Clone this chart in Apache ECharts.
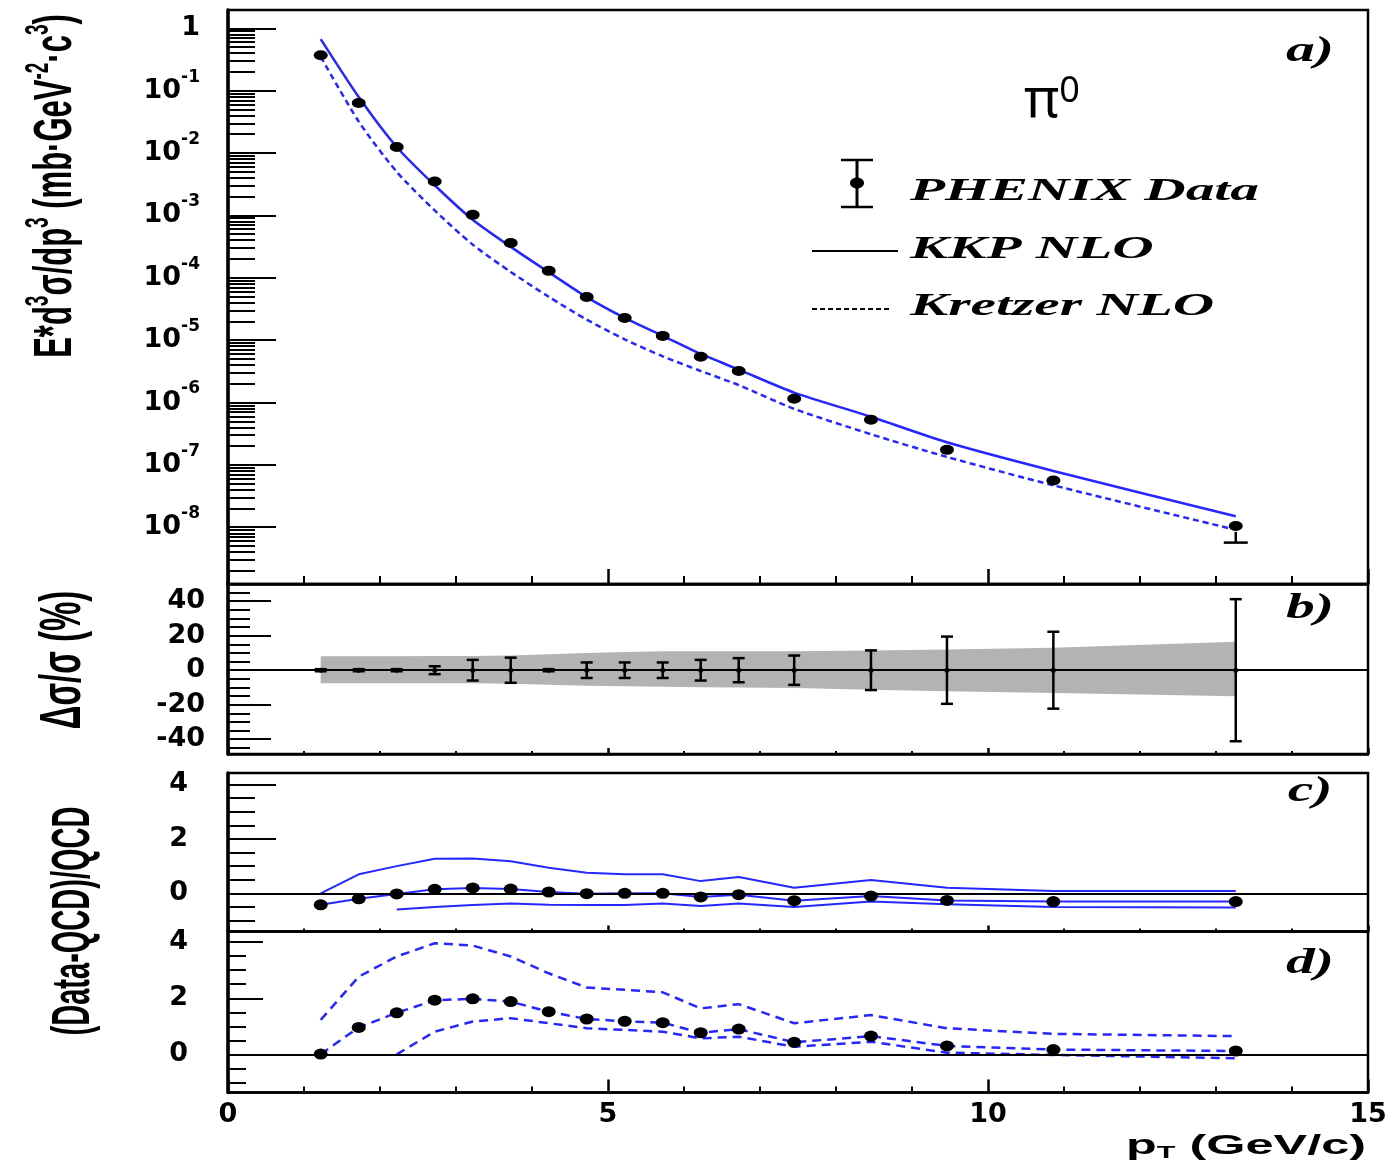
<!DOCTYPE html>
<html><head><meta charset="utf-8">
<script src="https://cdn.jsdelivr.net/npm/echarts@6/dist/echarts.min.js"></script>
<style>html,body{margin:0;padding:0;background:#fff}#c{width:1399px;height:1165px}</style>
</head><body><div id="c"></div>
<script>
// ---------------- data ----------------
const pT = [1.22,1.72,2.22,2.72,3.22,3.72,4.22,4.72,5.22,5.72,6.22,6.72,7.45,8.46,9.46,10.86,13.26];
// panel a: invariant cross section (mb GeV^-2 c^3)
const xsec = [0.37,0.0635,0.0125,3.5e-3,1.02e-3,3.6e-4,1.29e-4,4.9e-5,2.27e-5,1.17e-5,5.4e-6,3.2e-6,1.15e-6,5.3e-7,1.74e-7,5.6e-8,1.05e-8];
const xsecErrLoPct = [8,8,8,8,9,9,8,9,9,10,10,11,12,13,14,15,46];
const xsecErrHiPct = [8,8,8,8,9,9,8,9,9,10,10,11,12,13,14,15,15];
const kkpNLO = [0.67,0.079,0.0125,3.04e-3,8.5e-4,3.13e-4,1.23e-4,4.9e-5,2.27e-5,1.17e-5,6.0e-6,3.37e-6,1.44e-6,5.9e-7,2.3e-7,8.0e-8,1.5e-8];
const kretzerNLO = [0.35,0.032,5.0e-3,1.2e-3,3.4e-4,1.24e-4,4.96e-5,2.13e-5,1.03e-5,5.5e-6,3.2e-6,1.9e-6,7.9e-7,3.1e-7,1.34e-7,4.7e-8,9.1e-9];
// panel b: stat. errors (%) and systematic band (%)
const statErrPct = [0.6,0.6,0.6,2.3,6,7.3,0.6,4.5,4.5,4.5,6,7,8.5,11.5,19.5,22.3,41.2];
const sysHiPct = [8.1,8.1,8.1,8.2,8.3,8.5,9.3,10,10.6,11,11,11,11,11.5,12,13,16.5];
const sysLoPct = [-7.6,-7.6,-7.6,-7.6,-7.6,-7.8,-8.5,-9.0,-9.3,-9.6,-9.9,-10.1,-10.3,-11.3,-12.2,-13.2,-15.1];
// panel c: (Data-QCD)/QCD for KKP, with scale band
const ratioKKP = [-0.42,-0.2,-0.02,0.15,0.2,0.16,0.05,-0.01,0,0,-0.13,-0.05,-0.27,-0.1,-0.26,-0.3,-0.3];
const kkpUpper = [0.0,0.70,1.0,1.27,1.28,1.18,0.94,0.76,0.70,0.70,0.45,0.6,0.21,0.49,0.21,0.09,0.09];
const kkpLower = [null,null,-0.59,-0.5,-0.43,-0.37,-0.42,-0.43,-0.43,-0.37,-0.46,-0.37,-0.5,-0.3,-0.4,-0.5,-0.52];
// panel d: (Data-QCD)/QCD for Kretzer, with scale band
const ratioKretzer = [0.01,0.96,1.48,1.93,1.98,1.88,1.52,1.26,1.18,1.13,0.77,0.9,0.43,0.65,0.3,0.17,0.12];
const kretzerUpper = [1.23,2.77,3.49,3.96,3.88,3.49,2.89,2.38,2.30,2.21,1.64,1.79,1.11,1.40,0.93,0.73,0.65];
const kretzerLower = [null,null,0.0,0.81,1.17,1.29,1.11,0.93,0.87,0.81,0.57,0.63,0.27,0.45,0.06,-0.02,-0.14];
// tick labels
const xTickLabels = [0,5,10,15];
const aDecades = [-8,-7,-6,-5,-4,-3,-2,-1,0];
const bTicks = [-40,-20,0,20,40];
const cdTicks = [0,2,4];

// ---------------- styling ----------------
const BLUE = '#2626ff';
const LBL = 'DejaVu Sans';
const L10 = v => (v == null ? null : Math.log10(v));
const aMin = -8.91, aMax = 0.293;
const aMinor = [];
for (let n = -9; n <= 0; n++) for (let k = 2; k <= 9; k++) { const v = n + Math.log10(k); if (v > aMin && v < aMax) aMinor.push(v); }
const bMinor = [-45,-35,-30,-25,-15,-10,-5,5,10,15,25,30,35,45];
const cdMinor = [-1,-0.5,0.5,1,1.5,2.5,3,3.5];

const grids = [
  {left:228, right:31, top:10, height:574},
  {left:228, right:31, top:584, height:170},
  {left:228, right:31, top:773, height:158.5},
  {left:228, right:31, top:931.5, height:161}
].map(g => Object.assign({show:true, borderColor:'#000', borderWidth:2.5, backgroundColor:'transparent'}, g));

const xTickLen = [[15,8],[6,3],[6,3],[13,6]];
const xAxes = xTickLen.map((tl, i) => ({
  gridIndex:i, type:'value', min:0, max:15, interval:5,
  axisLine:{show:true, onZero:false, lineStyle:{color:'#000', width:2.5}},
  axisTick:{show:true, inside:true, length:tl[0], lineStyle:{color:'#000', width:2.5}},
  minorTick:{show:true, splitNumber:5, length:tl[1], lineStyle:{color:'#000', width:2}},
  splitLine:{show:false}, minorSplitLine:{show:false},
  axisLabel:{show:i===3, fontFamily:LBL, fontWeight:'bold', fontSize:27, color:'#000', margin:9,
    showMinLabel:true, showMaxLabel:true,
    formatter: v => (xTickLabels.indexOf(v) >= 0 ? String(v) : '')}
}));

function yMajor(gi, min, max, ticks, len, labelOpt) {
  return {
    gridIndex:gi, type:'value', position:'left', min, max,
    axisLine:{show:true, onZero:false, lineStyle:{color:'#000', width:3.5}},
    axisTick:{show:true, inside:true, length:len, customValues:ticks, lineStyle:{color:'#000', width:2}},
    splitLine:{show:false},
    axisLabel:Object.assign({show:true, customValues:ticks, fontFamily:LBL, fontWeight:'bold', fontSize:27, color:'#000'}, labelOpt)
  };
}
function yMinor(gi, min, max, ticks, len) {
  return {gridIndex:gi, type:'value', position:'left', min, max,
    axisLine:{show:false}, splitLine:{show:false}, axisLabel:{show:false},
    axisTick:{show:true, inside:true, length:len, customValues:ticks, lineStyle:{color:'#000', width:2}}};
}
const yAxes = [
  yMajor(0, aMin, aMax, aDecades, 48, {margin:28,
    formatter: v => { const n = Math.round(v); return n === 0 ? '{b|1}' : '{b|10}{s|' + n + '}'; },
    rich:{b:{fontFamily:LBL, fontWeight:'bold', fontSize:27, lineHeight:44, color:'#000'},
          s:{fontFamily:LBL, fontWeight:'bold', fontSize:17, lineHeight:18, verticalAlign:'top', color:'#000'}}}),
  yMinor(0, aMin, aMax, aMinor, 27),
  yMajor(1, -48.6, 50, bTicks, 43, {margin:23, formatter: v => String(Math.round(v))}),
  yMinor(1, -48.6, 50, bMinor, 22),
  yMajor(2, -1.4, 4.42, cdTicks, 48, {margin:40, formatter: v => String(Math.round(v))}),
  yMinor(2, -1.4, 4.42, cdMinor, 27),
  yMajor(3, -1.36, 4.38, cdTicks, 35, {margin:40, formatter: v => String(Math.round(v))}),
  yMinor(3, -1.36, 4.38, cdMinor, 18)
];

// error bar drawn only outside the marker (value layout: x, centre, low, high)
function errRender(capHalf, width, markerHalf) {
  return function (params, api) {
    const x = api.value(0), c = api.coord([x, api.value(1)]);
    const lo = api.coord([x, api.value(2)]), hi = api.coord([x, api.value(3)]);
    const st = {stroke:'#000', lineWidth:width};
    const ch = [];
    if (lo[1] - c[1] > markerHalf) {
      ch.push({type:'line', shape:{x1:c[0], y1:c[1]+markerHalf, x2:lo[0], y2:lo[1]}, style:st});
      ch.push({type:'line', shape:{x1:lo[0]-capHalf, y1:lo[1], x2:lo[0]+capHalf, y2:lo[1]}, style:st});
    }
    if (c[1] - hi[1] > markerHalf) {
      ch.push({type:'line', shape:{x1:c[0], y1:c[1]-markerHalf, x2:hi[0], y2:hi[1]}, style:st});
      ch.push({type:'line', shape:{x1:hi[0]-capHalf, y1:hi[1], x2:hi[0]+capHalf, y2:hi[1]}, style:st});
    }
    return {type:'group', children:ch};
  };
}
const zeroLine = {silent:true, symbol:'none', label:{show:false}, data:[{yAxis:0}],
  lineStyle:{color:'#000', width:2, type:'solid'}, emphasis:{disabled:true}};
const dotStyle = {color:'#000', opacity:1};

const series = [
  // ---- panel a
  {type:'line', name:'KKP NLO', xAxisIndex:0, yAxisIndex:0, data:pT.map((x,i)=>[x, L10(kkpNLO[i])]),
   showSymbol:false, smooth:0.25, lineStyle:{color:BLUE, width:2.5}, z:3},
  {type:'line', name:'Kretzer NLO', xAxisIndex:0, yAxisIndex:0, data:pT.map((x,i)=>[x, L10(kretzerNLO[i])]),
   showSymbol:false, smooth:0.25, lineStyle:{color:BLUE, width:2.5, type:[6,4]}, z:3},
  {type:'custom', xAxisIndex:0, yAxisIndex:0, renderItem:errRender(12, 2.5, 6), encode:{x:0, y:[2,3]},
   data:pT.map((x,i)=>[x, L10(xsec[i]), L10(xsec[i]*(1-xsecErrLoPct[i]/100)), L10(xsec[i]*(1+xsecErrHiPct[i]/100))]), z:4},
  {type:'scatter', name:'PHENIX Data', xAxisIndex:0, yAxisIndex:0, data:pT.map((x,i)=>[x, L10(xsec[i])]),
   symbol:'circle', symbolSize:[14,10], itemStyle:dotStyle, z:5},
  // ---- panel b
  {type:'custom', xAxisIndex:1, yAxisIndex:2, encode:{x:0, y:[1,2]},
   data:pT.map((x,i)=>[x, sysLoPct[i], sysHiPct[i]]),
   renderItem:(params, api) => {
     if (params.dataIndex !== 0) return null;
     const pts = [];
     for (let i = 0; i < pT.length; i++) pts.push(api.coord([pT[i], sysHiPct[i]]));
     for (let i = pT.length - 1; i >= 0; i--) pts.push(api.coord([pT[i], sysLoPct[i]]));
     return {type:'polygon', shape:{points:pts}, style:{fill:'#b3b3b3'}};
   }, z:1},
  {type:'custom', xAxisIndex:1, yAxisIndex:2, renderItem:errRender(6, 2.5, 0), encode:{x:0, y:[2,3]},
   data:pT.map((x,i)=>[x, 0, -statErrPct[i], statErrPct[i]]), z:4},
  {type:'scatter', xAxisIndex:1, yAxisIndex:2, data:pT.map(x=>[x,0]), symbol:'circle', symbolSize:5,
   itemStyle:dotStyle, markLine:zeroLine, z:4},
  // ---- panel c
  {type:'line', xAxisIndex:2, yAxisIndex:4, data:pT.map((x,i)=>[x, kkpUpper[i]]), showSymbol:false,
   lineStyle:{color:BLUE, width:2}, markLine:zeroLine, z:3},
  {type:'line', xAxisIndex:2, yAxisIndex:4, data:pT.map((x,i)=>[x, kkpLower[i]]), showSymbol:false,
   connectNulls:false, lineStyle:{color:BLUE, width:2}, z:3},
  {type:'line', xAxisIndex:2, yAxisIndex:4, data:pT.map((x,i)=>[x, ratioKKP[i]]), showSymbol:true, showAllSymbol:true,
   symbol:'circle', symbolSize:[14,11], itemStyle:dotStyle, lineStyle:{color:BLUE, width:2}, z:4},
  // ---- panel d
  {type:'line', xAxisIndex:3, yAxisIndex:6, data:pT.map((x,i)=>[x, kretzerUpper[i]]), showSymbol:false,
   lineStyle:{color:BLUE, width:2.5, type:[9,6]}, markLine:zeroLine, z:3},
  {type:'line', xAxisIndex:3, yAxisIndex:6, data:pT.map((x,i)=>[x, kretzerLower[i]]), showSymbol:false,
   connectNulls:false, lineStyle:{color:BLUE, width:2.5, type:[9,6]}, z:3},
  {type:'line', xAxisIndex:3, yAxisIndex:6, data:pT.map((x,i)=>[x, ratioKretzer[i]]), showSymbol:true, showAllSymbol:true,
   symbol:'circle', symbolSize:[14,11], itemStyle:dotStyle, lineStyle:{color:BLUE, width:2.5, type:[9,6]}, z:4}
];

// ---------------- text & legend ----------------
const SANS = 'Liberation Sans';
const SERIF = 'Liberation Serif';
function rtxt(x, y, text, rich, opt) {
  return Object.assign({type:'text', x, y, silent:true, z:50,
    style:{text, rich, fill:'#000', align:'center', verticalAlign:'middle'}}, opt || {});
}
const nSans = sz => ({fontFamily:SANS, fontWeight:'bold', fontSize:sz, lineHeight:sz+8, fill:'#000', color:'#000'});
const supSans = sz => ({fontFamily:SANS, fontWeight:'bold', fontSize:sz, lineHeight:sz, verticalAlign:'top', fill:'#000', color:'#000'});
const serifBI = sz => ({fontFamily:SERIF, fontWeight:'bold', fontStyle:'italic', fontSize:sz, fill:'#000'});

const graphics = [
  // y titles (rotated)
  rtxt(56, 186, '{n|E*d}{s|3}{n|σ/dp}{s|3}{n| (mb·GeV}{s|-2}{n|·c}{s|3}{n|)}',
       {n:nSans(31), s:supSans(19)}, {rotation:Math.PI/2, scaleY:1.75}),
  rtxt(64, 660, '{n|Δσ/σ (%)}', {n:nSans(33)}, {rotation:Math.PI/2, scaleY:1.75}),
  rtxt(74, 921, '{n|(Data-QCD)/QCD}', {n:nSans(29)}, {rotation:Math.PI/2, scaleY:1.85}),
  // x title
  {type:'text', x:1366, y:1146, silent:true, scaleX:1.8,
   style:{text:'{b|p}{t|T}{b| (GeV/c)}', align:'right', verticalAlign:'middle',
     rich:{b:Object.assign(nSans(28), {lineHeight:32}), t:{fontFamily:SANS, fontWeight:'bold', fontSize:17, lineHeight:20, verticalAlign:'bottom', fill:'#000'}}}},
  // panel letters
  {type:'text', x:1310, y:52, silent:true, scaleX:1.6, style:Object.assign({text:'a)', align:'center', verticalAlign:'middle'}, serifBI(36))},
  {type:'text', x:1310, y:609, silent:true, scaleX:1.6, style:Object.assign({text:'b)', align:'center', verticalAlign:'middle'}, serifBI(36))},
  {type:'text', x:1310, y:792, silent:true, scaleX:1.6, style:Object.assign({text:'c)', align:'center', verticalAlign:'middle'}, serifBI(36))},
  {type:'text', x:1310, y:964, silent:true, scaleX:1.6, style:Object.assign({text:'d)', align:'center', verticalAlign:'middle'}, serifBI(36))},
  // pi0
  {type:'text', x:1052, y:102, silent:true,
   style:{text:'{p|π}{z|0}', align:'center', verticalAlign:'middle',
     rich:{p:{fontFamily:'Noto Sans', fontSize:54, lineHeight:56, fill:'#000'},
           z:{fontFamily:'Noto Sans', fontSize:36, lineHeight:34, verticalAlign:'top', fill:'#000'}}}},
  // legend: PHENIX Data
  {type:'line', silent:true, shape:{x1:857, y1:160, x2:857, y2:207}, style:{stroke:'#000', lineWidth:3}},
  {type:'line', silent:true, shape:{x1:841, y1:160, x2:873, y2:160}, style:{stroke:'#000', lineWidth:2.5}},
  {type:'line', silent:true, shape:{x1:841, y1:207, x2:873, y2:207}, style:{stroke:'#000', lineWidth:2.5}},
  {type:'ellipse', silent:true, shape:{cx:857, cy:183, rx:7, ry:5.5}, style:{fill:'#000'}},
  {type:'text', x:910, y:192, silent:true, scaleX:1.85, style:Object.assign({text:'PHENIX Data', align:'left', verticalAlign:'middle'}, serifBI(31))},
  // legend: KKP
  {type:'line', silent:true, shape:{x1:812, y1:251, x2:898, y2:251}, style:{stroke:'#000', lineWidth:2}},
  {type:'text', x:910, y:250, silent:true, scaleX:1.85, style:Object.assign({text:'KKP NLO', align:'left', verticalAlign:'middle'}, serifBI(31))},
  // legend: Kretzer
  {type:'line', silent:true, shape:{x1:812, y1:309, x2:892, y2:309}, style:{stroke:'#000', lineWidth:2, lineDash:[5,3]}},
  {type:'text', x:910, y:307, silent:true, scaleX:1.85, style:Object.assign({text:'Kretzer NLO', align:'left', verticalAlign:'middle'}, serifBI(31))}
];

const chart = echarts.init(document.getElementById('c'), null, {renderer:'canvas'});
chart.setOption({
  animation:false, backgroundColor:'#fff',
  grid:grids, xAxis:xAxes, yAxis:yAxes, series, graphic:graphics
});
</script></body></html>
